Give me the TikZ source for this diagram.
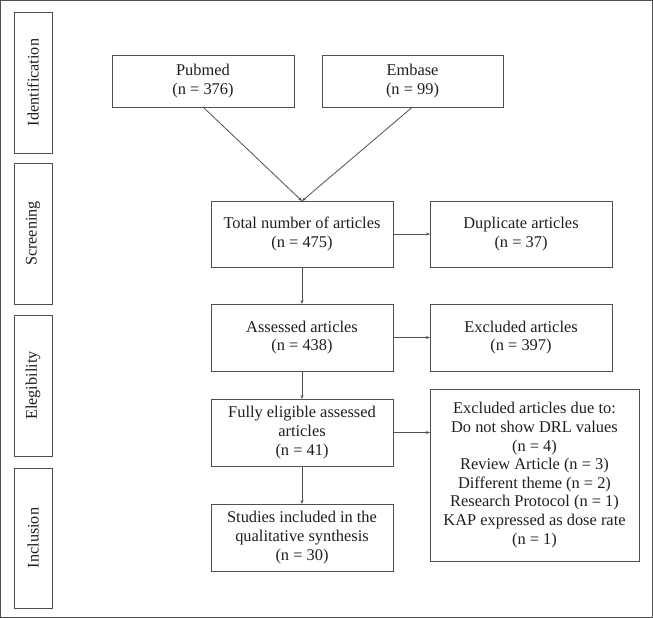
\documentclass[tikz,border=0pt]{standalone}
\usepackage{fontspec}
\setmainfont{Liberation Serif}
\usetikzlibrary{arrows.meta}
\definecolor{ln}{RGB}{80,80,80}
\definecolor{tx}{RGB}{30,30,30}
\begin{document}
\begin{tikzpicture}[x=1pt,y=-1pt,
  box/.style={draw=ln,line width=0.9pt,inner sep=0pt,outer sep=0pt,align=center,
    font=\fontsize{16.4}{18.6}\selectfont,text=tx},
  phase/.style={box,minimum width=38pt,minimum height=141pt},
  plabel/.style={rotate=90,font=\fontsize{16.2}{18.6}\selectfont,text=tx},
  arr/.style={draw=ln,line width=0.8pt,-{Stealth[length=4pt,width=3pt]}}]
\useasboundingbox (0,0) rectangle (653,618);
\draw[ln,line width=1pt] (0.5,0.5) rectangle (652.5,617.5);
\node[phase] (id) at (33,82.5) {};
\node[plabel] at (id.center) {Identification};
\node[phase] (scr) at (33,233.5) {};
\node[plabel] at (scr.center) {Screening};
\node[phase] (eli) at (33,385.5) {};
\node[plabel] at (eli.center) {Elegibility};
\node[phase,minimum height=140pt] (inc) at (33,538) {};
\node[plabel] at (inc.center) {Inclusion};

\node[box,minimum width=182pt,minimum height=52pt] (pub) at (203,81) {Pubmed\\(n = 376)};
\node[box,minimum width=181pt,minimum height=52pt] (emb) at (412.5,81) {Embase\\(n = 99)};
\node[box,minimum width=182pt,minimum height=66pt] (tot) at (302,234) {Total number of articles\\(n = 475)};
\node[box,minimum width=182pt,minimum height=66pt] (dup) at (521,234) {Duplicate articles\\(n = 37)};
\node[box,minimum width=182pt,minimum height=67pt] (ass) at (302,337.5) {Assessed articles\\(n = 438)};
\node[box,minimum width=182pt,minimum height=67pt] (exc) at (521,337.5) {Excluded articles\\(n = 397)};
\node[box,minimum width=182pt,minimum height=67pt] (ful) at (302,432.5) {Fully eligible assessed\\articles\\(n = 41)};
\node[box,minimum width=209pt,minimum height=172pt] (exd) at (534.5,475) {Excluded articles due to:\\Do not show DRL values\\(n = 4)\\Review Article (n = 3)\\Different theme (n = 2)\\Research Protocol (n = 1)\\KAP expressed as dose rate\\(n = 1)};
\node[box,minimum width=182pt,minimum height=67pt] (stu) at (302,537.5) {Studies included in the\\qualitative synthesis\\(n = 30)};

\draw[arr] (pub.south) -- (tot.north);
\draw[arr] (emb.south) -- (tot.north);
\draw[arr] (tot.south) -- (ass.north);
\draw[arr] (ass.south) -- (ful.north);
\draw[arr] (ful.south) -- (stu.north);
\draw[arr] (tot.east) -- (dup.west);
\draw[arr] (ass.east) -- (exc.west);
\draw[arr] (ful.east) -- (ful.east -| exd.west);
\end{tikzpicture}
\end{document}
